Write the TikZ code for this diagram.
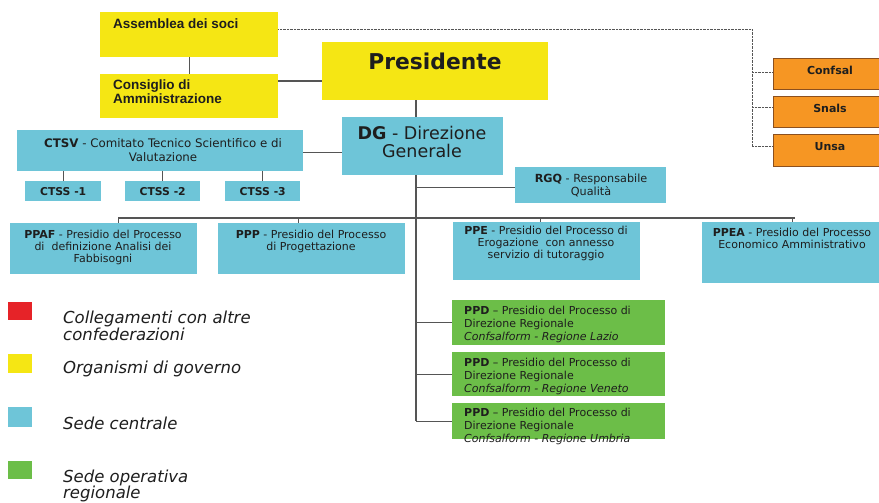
\documentclass[tikz,border=0pt]{standalone}
\usepackage{fontspec}
\setmainfont{DejaVu Sans}
\newfontfamily\arialf{Liberation Sans}
\definecolor{cyel}{RGB}{245,230,20}
\definecolor{cblu}{RGB}{110,197,216}
\definecolor{cgrn}{RGB}{108,190,72}
\definecolor{cora}{RGB}{246,150,35}
\definecolor{cbrn}{RGB}{140,80,30}
\definecolor{cred}{RGB}{230,35,40}
\definecolor{cline}{RGB}{85,85,85}
\definecolor{ctxt}{RGB}{30,30,30}
\tikzset{
  box/.style={inner sep=0pt, anchor=north west},
  yb/.style={box, fill=cyel},
  bb/.style={box, fill=cblu},
  gb/.style={box, fill=cgrn},
  ob/.style={box, fill=cora, draw=cbrn, line width=0.8pt},
  conn/.style={draw=cline, line width=1.1pt},
  dotl/.style={draw=cline, line width=1pt, dash pattern=on 0.8pt off 0.6pt},
  txt/.style={inner sep=0pt, text=ctxt, align=center, font=\fontsize{11}{11.8}\selectfont},
  ltxt/.style={inner sep=0pt, text=ctxt, align=left, font=\fontsize{11}{13}\selectfont},
  legt/.style={inner sep=0pt, text=ctxt, align=left, anchor=west, font=\fontsize{16.5}{16.5}\selectfont\itshape},
  otxt/.style={inner sep=0pt, text=ctxt, font=\bfseries\fontsize{11}{12}\selectfont},
}
\begin{document}
\begin{tikzpicture}[x=1pt,y=-1pt]
\clip (0,0) rectangle (879,503);
\fill[white] (0,0) rectangle (879,503);
% boxes
\node[yb, minimum width=178pt, minimum height=45pt] (ass) at (100,12) {};
\node[yb, minimum width=178pt, minimum height=44pt] (cons) at (100,74) {};
\node[yb, minimum width=226pt, minimum height=58pt] (pres) at (322,42) {};
\node[bb, minimum width=161pt, minimum height=58pt] (dg) at (342,117) {};
\node[bb, minimum width=286pt, minimum height=41pt] (ctsv) at (17,130) {};
\node[bb, minimum width=76pt, minimum height=20pt] (ctss1) at (25,181) {};
\node[bb, minimum width=75pt, minimum height=20pt] (ctss2) at (125,181) {};
\node[bb, minimum width=75pt, minimum height=20pt] (ctss3) at (225,181) {};
\node[bb, minimum width=151pt, minimum height=36pt] (rgq) at (515,167) {};
\node[bb, minimum width=187pt, minimum height=51pt] (ppaf) at (10,223) {};
\node[bb, minimum width=187pt, minimum height=51pt] (ppp) at (218,223) {};
\node[bb, minimum width=187pt, minimum height=58pt] (ppe) at (453,222) {};
\node[bb, minimum width=185pt, minimum height=61pt] (ppea) at (702,222) {};
\node[gb, minimum width=213pt, minimum height=45pt] (ppd1) at (452,300) {};
\node[gb, minimum width=213pt, minimum height=44pt] (ppd2) at (452,352) {};
\node[gb, minimum width=213pt, minimum height=36pt] (ppd3) at (452,403) {};
\node[ob, minimum width=115pt, minimum height=31pt] (confsal) at (773,58) {};
\node[ob, minimum width=115pt, minimum height=31pt] (snals) at (773,96) {};
\node[ob, minimum width=115pt, minimum height=32pt] (unsa) at (773,134) {};
% texts
\node[inner sep=0pt, anchor=west, text=ctxt, font=\arialf\bfseries\fontsize{13.5}{15}\selectfont] (ass-t) at (113,23.5) {Assemblea dei soci};
\node[inner sep=0pt, anchor=north west, align=left, text=ctxt, font=\arialf\bfseries\fontsize{13.5}{14}\selectfont] (cons-t) at (113,80) {Consiglio di\\Amministrazione};
\node[inner sep=0pt, text=ctxt, font=\bfseries\fontsize{21.8}{24}\selectfont] (pres-t) at (435,61) {Presidente};
\node[inner sep=0pt, align=center, text=ctxt, font=\fontsize{17.5}{18.5}\selectfont] (dg-t) at (422,142) {\textbf{DG} - Direzione\\Generale};
\node[txt, font=\fontsize{11.8}{14}\selectfont] (ctsv-t) at (163,150.5) {\textbf{CTSV} - Comitato Tecnico Scientifico e di\\Valutazione};
\node[txt, font=\bfseries\fontsize{10.8}{11}\selectfont] (ctss1-t) at (ctss1.center) {CTSS -1};
\node[txt, font=\bfseries\fontsize{10.8}{11}\selectfont] (ctss2-t) at (ctss2.center) {CTSS -2};
\node[txt, font=\bfseries\fontsize{10.8}{11}\selectfont] (ctss3-t) at (ctss3.center) {CTSS -3};
\node[txt, font=\fontsize{11.2}{13}\selectfont] (rgq-t) at (591,185) {\textbf{RGQ} - Responsabile\\Qualità};
\node[txt, anchor=north] (ppaf-t) at (103,230) {\textbf{PPAF} - Presidio del Processo\\di\ \ definizione Analisi dei\\Fabbisogni};
\node[txt, anchor=north] (ppp-t) at (311,230) {\textbf{PPP} - Presidio del Processo\\di Progettazione};
\node[txt, anchor=north] (ppe-t) at (546,226) {\textbf{PPE} - Presidio del Processo di\\Erogazione\ \ con annesso\\servizio di tutoraggio};
\node[txt, anchor=north] (ppea-t) at (792,228) {\textbf{PPEA} - Presidio del Processo\\Economico Amministrativo};
\node[ltxt, anchor=north west] (ppd1-t) at (464,306) {\textbf{PPD} -- Presidio del Processo di\\Direzione Regionale\\\textit{Confsalform - Regione Lazio}};
\node[ltxt, anchor=north west] (ppd2-t) at (464,358) {\textbf{PPD} -- Presidio del Processo di\\Direzione Regionale\\\textit{Confsalform - Regione Veneto}};
\node[ltxt, anchor=north west] (ppd3-t) at (464,408) {\textbf{PPD} -- Presidio del Processo di\\Direzione Regionale\\\textit{Confsalform - Regione Umbria}};
\node[otxt] (confsal-t) at (830,70) {Confsal};
\node[otxt] (snals-t) at (830,108) {Snals};
\node[otxt] (unsa-t) at (830,147) {Unsa};
% connectors
\coordinate (tx) at (416,0);
\coordinate (dx) at (752,0);
\coordinate (busy) at (0,218);
\draw[conn] (ass.south) -- (cons.north);
\draw[conn] ([yshift=-7pt]cons.north east) -- ([yshift=-7pt]cons.north east -| pres.west);
\draw[conn] (pres.south -| tx) -- (dg.north -| tx);
\draw[conn] ([yshift=-2pt]ctsv.east) -- ([yshift=-2pt]ctsv.east -| dg.west);
\draw[conn] (ctss1.north) -- (ctss1.north |- ctsv.south);
\draw[conn] (ctss2.north) -- (ctss2.north |- ctsv.south);
\draw[conn] (ctss3.north) -- (ctss3.north |- ctsv.south);
\draw[conn] (dg.south -| tx) -- (ppd3.west -| tx);
\draw[conn] ([yshift=-2pt]rgq.west -| tx) -- ([yshift=-2pt]rgq.west);
\draw[conn] ([xshift=14.5pt]ppaf.north |- busy) -- (ppea.north |- busy);
\draw[conn] ([xshift=14.5pt]ppaf.north |- busy) -- ([xshift=14.5pt]ppaf.north);
\draw[conn] ([xshift=-13.5pt]ppp.north |- busy) -- ([xshift=-13.5pt]ppp.north);
\draw[conn] ([xshift=-6.5pt]ppe.north |- busy) -- ([xshift=-6.5pt]ppe.north);
\draw[conn] ([xshift=-2pt]ppea.north |- busy) -- ([xshift=-2pt]ppea.north);
\draw[conn] (ppd1.west -| tx) -- (ppd1.west);
\draw[conn] (ppd2.west -| tx) -- (ppd2.west);
\draw[conn] (ppd3.west -| tx) -- (ppd3.west);
\draw[dotl] ([yshift=5.5pt]ass.east) -| ([yshift=4pt]dx |- unsa.west) -- ([yshift=4pt]unsa.west);
\draw[dotl] ([yshift=1pt]dx |- confsal.west) -- ([yshift=1pt]confsal.west);
\draw[dotl] ([yshift=4pt]dx |- snals.west) -- ([yshift=4pt]snals.west);
% legend
\node[box, fill=cred, minimum width=24pt, minimum height=18pt] (lr) at (8,302) {};
\node[box, fill=cyel, minimum width=24pt, minimum height=19pt] (ly) at (8,354) {};
\node[box, fill=cblu, minimum width=24pt, minimum height=20pt] (lb) at (8,407) {};
\node[box, fill=cgrn, minimum width=24pt, minimum height=18pt] (lg) at (8,461) {};
\node[legt] (lr-t) at (63,326) {Collegamenti con altre\\confederazioni};
\node[legt] (ly-t) at (63,369) {Organismi di governo};
\node[legt] (lb-t) at (63,423) {Sede centrale};
\node[legt] (lg-t) at (63,486) {Sede operativa\\regionale};
\end{tikzpicture}
\end{document}
